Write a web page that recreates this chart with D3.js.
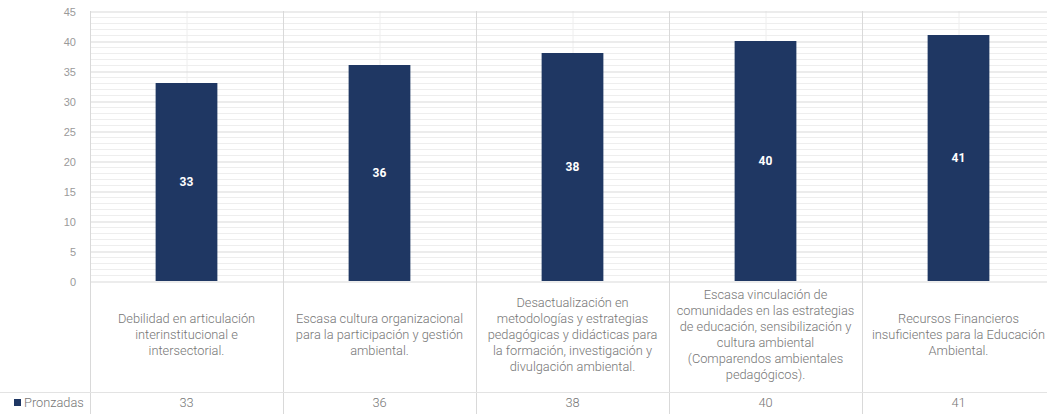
<!DOCTYPE html>
<html><head><meta charset="utf-8">
<script src="https://cdn.jsdelivr.net/npm/d3@7"></script>
<style>
html,body{margin:0;padding:0;background:#fff;}
svg{display:block;font-family:Roboto, "Liberation Sans", sans-serif;}
</style></head>
<body><svg id="chart" width="1047" height="414"></svg>
<script>
const categories = [
  ["Debilidad en articulación","interinstitucional e","intersectorial."],
  ["Escasa cultura organizacional","para la participación y gestión","ambiental."],
  ["Desactualización en","metodologías y estrategias","pedagógicas y didácticas para","la formación, investigación y","divulgación ambiental."],
  ["Escasa vinculación de","comunidades en las estrategias","de educación, sensibilización y","cultura ambiental","(Comparendos ambientales","pedagógicos)."],
  ["Recursos Financieros","insuficientes para la Educación","Ambiental."]
];
const seriesName = "Pronzadas";
const values = [33, 36, 38, 40, 41];
const yTicks = [0,5,10,15,20,25,30,35,40,45];

(function(){
const svg = d3.select("#chart");
const W = 1047;
const plotLeft = 90, catW = 193, plotTop = 11, zeroY = 281, tableRowY = 392, bottomY = 414;
const ids = categories.map((c,i)=>i);
const x = d3.scaleBand().domain(ids).range([plotLeft, plotLeft + catW*categories.length]).paddingInner(0).paddingOuter(0);
const y = d3.scaleLinear().domain([0,45]).range([zeroY, plotTop]);
const textCol = "#767676";

// minor horizontal gridlines
const minor = d3.range(0,46,1).filter(v=>v%5!==0);
svg.append("g").selectAll("line").data(minor).join("line")
  .attr("x1", plotLeft).attr("x2", W).attr("y1", d=>y(d)+0.5).attr("y2", d=>y(d)+0.5)
  .attr("stroke","#eeeeee").attr("stroke-width",1);
// minor vertical lines at category centers
svg.append("g").selectAll("line").data(ids).join("line")
  .attr("x1", d=>x(d)+x.bandwidth()/2+0.5).attr("x2", d=>x(d)+x.bandwidth()/2+0.5)
  .attr("y1", plotTop).attr("y2", zeroY)
  .attr("stroke","#eeeeee").attr("stroke-width",1);
// major horizontal gridlines
const yAxis = d3.axisLeft(y).tickValues(yTicks).tickSize(-(W-plotLeft)).tickPadding(14);
const gy = svg.append("g").attr("transform",`translate(${plotLeft},0.5)`).call(yAxis);
gy.select(".domain").remove();
gy.selectAll(".tick line").attr("stroke","#d9d9d9");
gy.selectAll(".tick text").attr("fill","#9a9a9a").attr("font-size",11).attr("font-weight",300);

// vertical table lines
const bounds = d3.range(categories.length+1).map(i=> i<categories.length ? x(i) : x(i-1)+x.bandwidth());
svg.append("g").selectAll("line").data(bounds).join("line")
  .attr("x1", d=>Math.round(d)+0.5).attr("x2", d=>Math.round(d)+0.5)
  .attr("y1", plotTop).attr("y2", bottomY)
  .attr("stroke","#d9d9d9");
// table horizontal line
svg.append("line").attr("x1",0).attr("x2",W).attr("y1",tableRowY+0.5).attr("y2",tableRowY+0.5).attr("stroke","#e3e3e3");

// bars
const barW = x.bandwidth()*0.32;
svg.append("g").selectAll("rect").data(values).join("rect")
  .attr("x",(d,i)=>x(i)+x.bandwidth()/2-barW/2)
  .attr("y",d=>y(d)).attr("width",barW).attr("height",d=>y(0)-y(d))
  .attr("fill","#1f3763");
// bar labels
svg.append("g").selectAll("text").data(values).join("text")
  .attr("x",(d,i)=>x(i)+x.bandwidth()/2)
  .attr("y",d=>(y(d)+y(0))/2).attr("dy","0.35em")
  .attr("text-anchor","middle").attr("fill","#fff").attr("font-weight",700).attr("font-size",12)
  .text(d=>d);

// category labels
const lineH = 16, labelMid = 335;
categories.forEach((lines,i)=>{
  const t = svg.append("text").attr("text-anchor","middle").attr("fill",textCol)
    .attr("font-size",12.8).attr("font-weight",300);
  const y0 = labelMid - (lines.length-1)*lineH/2;
  lines.forEach((l,j)=>{
    t.append("tspan").attr("x", x(i)+x.bandwidth()/2).attr("y", y0 + j*lineH).attr("dy","0.35em").text(l);
  });
});

// data row
svg.append("g").selectAll("text").data(values).join("text")
  .attr("x",(d,i)=>x(i)+x.bandwidth()/2).attr("y",403).attr("dy","0.35em")
  .attr("text-anchor","middle").attr("fill",textCol).attr("font-size",12.8).attr("font-weight",300)
  .text(d=>d);
// legend cell
svg.append("rect").attr("x",14).attr("y",399).attr("width",7).attr("height",7).attr("fill","#1f3763");
svg.append("text").attr("x",24).attr("y",403).attr("dy","0.35em")
  .attr("fill",textCol).attr("font-size",12.8).attr("font-weight",300).text(seriesName);
})();
</script></body></html>
